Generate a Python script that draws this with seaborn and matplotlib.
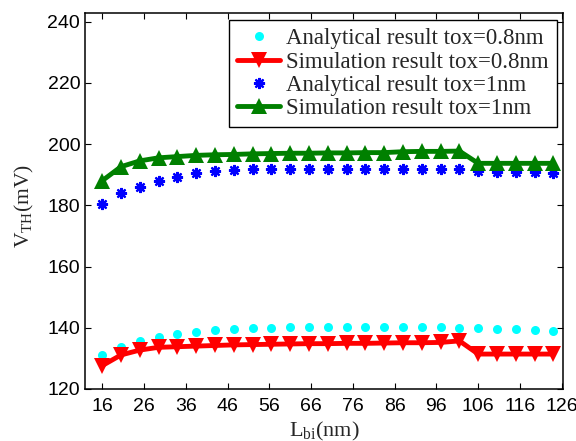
import numpy as np
import pandas as pd
import matplotlib
matplotlib.use("Agg")
import matplotlib.pyplot as plt
import seaborn as sns

# ---- data ----
lbi = [16, 20.5, 25, 29.5, 34, 38.5, 43, 47.5, 52, 56.5, 61, 65.5, 70, 74.5,
       79, 83.5, 88, 92.5, 97, 101.5, 106, 110.5, 115, 119.5, 124]
ana_08 = [131.0, 133.6, 135.7, 137.1, 138.0, 138.7, 139.1, 139.6, 139.8, 140.0,
          140.1, 140.1, 140.1, 140.1, 140.1, 140.1, 140.2, 140.2, 140.1, 139.8,
          139.8, 139.7, 139.5, 139.4, 139.0]
sim_08 = [127.6, 131.1, 132.7, 133.6, 133.8, 134.0, 134.2, 134.4, 134.5, 134.6,
          134.7, 134.8, 134.8, 134.9, 134.9, 135.0, 135.1, 135.1, 135.2, 135.7,
          131.4, 131.4, 131.4, 131.4, 131.4]
ana_1 = [180.3, 183.9, 186.0, 188.0, 189.2, 190.5, 191.1, 191.5, 191.8, 191.8,
         192.0, 192.0, 192.0, 192.0, 192.0, 192.0, 192.0, 191.8, 191.8, 191.8,
         191.2, 191.0, 190.8, 190.8, 190.5]
sim_1 = [188.0, 192.6, 194.5, 195.5, 195.9, 196.3, 196.5, 196.6, 196.8, 196.9,
         197.0, 197.0, 197.1, 197.1, 197.2, 197.2, 197.5, 197.6, 197.6, 197.7,
         193.7, 193.7, 193.7, 193.7, 193.7]
labels = ["Analytical result tox=0.8nm", "Simulation result tox=0.8nm",
          "Analytical result tox=1nm", "Simulation result tox=1nm"]
xticks = [16, 26, 36, 46, 56, 66, 76, 86, 96, 106, 116, 126]
yticks = [120, 140, 160, 180, 200, 220, 240]

df = pd.DataFrame({"Lbi": lbi, "a08": ana_08, "s08": sim_08, "a1": ana_1, "s1": sim_1})

sns.set_theme(style="ticks")
plt.rcParams["font.family"] = ["Liberation Sans", "DejaVu Sans"]
plt.rcParams["mathtext.fontset"] = "custom"
plt.rcParams["mathtext.rm"] = "Liberation Serif"
plt.rcParams["mathtext.it"] = "Liberation Serif:italic"

fig = plt.figure(figsize=(5.76, 4.41), dpi=100)
ax = fig.add_axes([0.1476, 0.118, 0.8299, 0.8525])

sns.lineplot(data=df, x="Lbi", y="a08", ax=ax, linestyle="none", marker="o",
             color="#00ffff", markersize=6.5, markeredgewidth=0, label=labels[0])
sns.lineplot(data=df, x="Lbi", y="s08", ax=ax, color="#ff0000", linewidth=3.5,
             marker="v", markersize=12, markeredgewidth=0, label=labels[1])
sns.lineplot(data=df, x="Lbi", y="a1", ax=ax, linestyle="none", marker=(8, 2, 0),
             color="#0000ff", markersize=8, markeredgewidth=1.6,
             markeredgecolor="#0000ff", label=labels[2])
sns.lineplot(data=df, x="Lbi", y="s1", ax=ax, color="#008000", linewidth=3.5,
             marker="^", markersize=12, markeredgewidth=0, label=labels[3])

ax.set_xlim(11.9, 126.3)
ax.set_ylim(120, 242.8)
ax.set_xticks(xticks)
ax.set_yticks(yticks)
ax.tick_params(direction="in", length=4, width=0.8, labelsize=14,
               top=True, right=True, colors="black")
ax.tick_params(axis="x", pad=6.5)
ax.tick_params(axis="y", pad=3.5)
for s in ax.spines.values():
    s.set_linewidth(1.1)
    s.set_color("black")

ax.set_xlabel(r"$\mathrm{L_{bi}(nm)}$", fontsize=16, labelpad=3.5)
ax.set_ylabel(r"$\mathrm{V_{TH}(mV)}$", fontsize=15.5, labelpad=8)
ax.yaxis.label.set_y(0.487)

leg = ax.legend(loc="upper right", bbox_to_anchor=(0.9874, 0.981), frameon=True,
                fancybox=False, edgecolor="black", framealpha=1,
                prop={"family": "Liberation Serif", "size": 16.5},
                handlelength=1.9, handletextpad=0.26, labelspacing=0.1,
                borderpad=0.35, borderaxespad=0.0)
leg.get_frame().set_linewidth(1.0)

fig.savefig("out.png", dpi=100)
